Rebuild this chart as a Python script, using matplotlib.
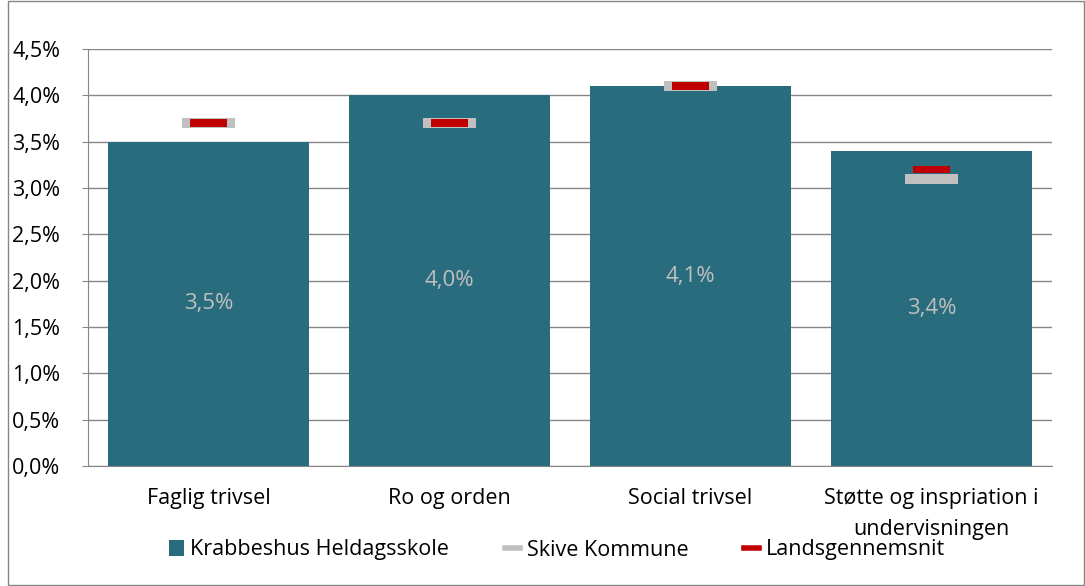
import matplotlib.pyplot as plt
from matplotlib.patches import Patch, Rectangle
from matplotlib.lines import Line2D
import numpy as np

plt.rcParams['font.family'] = ['Open Sans', 'DejaVu Sans']

categories = ["Faglig trivsel", "Ro og orden", "Social trivsel",
              "Støtte og inspriation i\nundervisningen"]
school = [3.5, 4.0, 4.1, 3.4]
kommune = [3.7, 3.7, 4.1, 3.1]
lands = [3.7, 3.7, 4.1, 3.2]
yticks = [0.0, 0.5, 1.0, 1.5, 2.0, 2.5, 3.0, 3.5, 4.0, 4.5]

teal = '#296c7d'
grey = '#c0c0c0'
red = '#c00000'
fs = 15.5

fig = plt.figure(figsize=(10.85, 5.86), dpi=100)
ax = fig.add_axes([88 / 1085, 1 - 466 / 586, (1052 - 88) / 1085, (466 - 49) / 586])

x = np.arange(len(categories))
ax.bar(x, school, width=0.83, color=teal, zorder=2)

# short horizontal markers for comparison values
for xi, k, l in zip(x, kommune, lands):
    ax.add_patch(Rectangle((xi - 0.11, k - 0.055), 0.22, 0.11, color=grey, zorder=3, linewidth=0))
    ax.add_patch(Rectangle((xi - 0.077, l - 0.04), 0.154, 0.08, color=red, zorder=4, linewidth=0))

for xi, v in zip(x, school):
    ax.text(xi, v / 2, f"{v:.1f}%".replace('.', ','), ha='center', va='center',
            color='#bfbfbf', fontsize=16, zorder=5)

ax.set_xlim(-0.5, len(categories) - 0.5)
ax.set_ylim(0, 4.5)
ax.set_yticks(yticks)
ax.set_yticklabels([f"{t:.1f}%".replace('.', ',') for t in yticks], fontsize=fs)
ax.set_xticks(x)
ax.set_xticklabels(categories, fontsize=fs, linespacing=1.6)
ax.tick_params(axis='x', length=0, pad=16)
ax.tick_params(axis='y', length=4, color='#868686', pad=16)
ax.grid(axis='y', color='#868686', linewidth=1, zorder=0)
for s in ['top', 'right']:
    ax.spines[s].set_visible(False)
ax.spines['left'].set_color('#868686')
ax.spines['bottom'].set_color('#868686')

handles = [
    Patch(facecolor=teal, edgecolor='none'),
    Line2D([0], [0], color=grey, linewidth=4),
    Line2D([0], [0], color=red, linewidth=4),
]
labels = ["Krabbeshus Heldagsskole", "Skive Kommune", "Landsgennemsnit"]
fig.legend(handles, labels, loc='center', bbox_to_anchor=(557 / 1085, 1 - 550 / 586),
           ncol=3, frameon=False, fontsize=fs, handlelength=0.7, handletextpad=0.3,
           columnspacing=2.6)

# outer chart border
fig.add_artist(Rectangle((8 / 1085, 0.002), 1 - 9 / 1085, 0.996, transform=fig.transFigure,
                         fill=False, edgecolor='#868686', linewidth=1))

fig.savefig('out.png', dpi=100)
